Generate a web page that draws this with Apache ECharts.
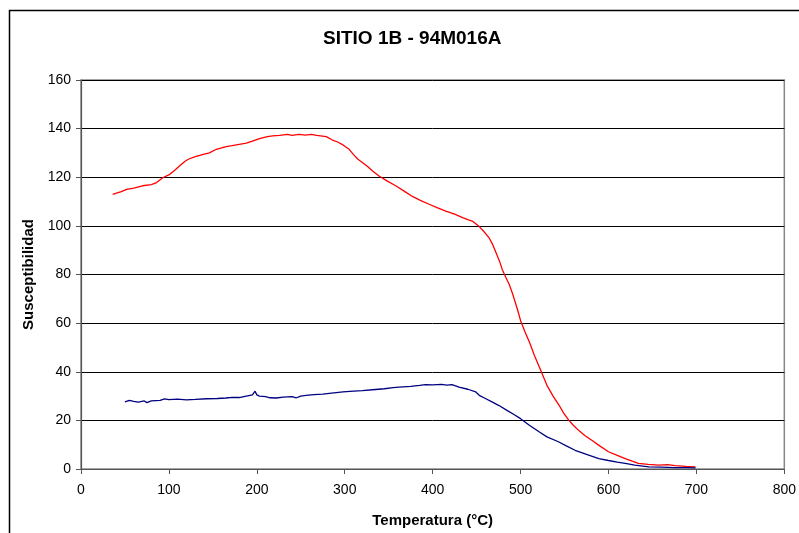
<!DOCTYPE html>
<html lang="es">
<head>
    <meta charset="UTF-8">
    <title>SITIO 1B - 94M016A</title>
    <script src="https://cdn.jsdelivr.net/npm/echarts@6/dist/echarts.min.js"></script>
    <style>
        html, body {
            margin: 0;
            height: 100%;
            background: #fff;
        }
        #main {
            width: 799px;
            height: 533px;
        }
    </style>
</head>
<body>
<div id="main"></div>
<script>
    // calentamiento [temperatura, susceptibilidad]
    var heating = [
        [36, 113], [45, 114], [52, 115], [60, 115.5], [70, 116.5], [80, 117], [86, 117.8], [93, 119.8],
        [101, 121.2], [107, 123], [112, 124.6], [118, 126.5], [122, 127.4], [130, 128.5], [139, 129.4],
        [146, 130], [154, 131.5], [165, 132.6], [172, 133], [180, 133.5], [188, 134], [195, 134.9],
        [203, 135.9], [212, 136.7], [218, 137], [226, 137.2], [235, 137.6], [240, 137.2], [248, 137.6],
        [255, 137.3], [262, 137.6], [268, 137.2], [279, 136.7], [286, 135.3], [292, 134.5], [298, 133.3],
        [305, 131.5], [310, 129.3], [315, 127.4], [320, 126.1], [326, 124.4], [332, 122.5], [339, 120.5],
        [348, 118.5], [358, 116.5], [368, 114.2], [377, 112.1], [386, 110.5], [396, 108.9], [405, 107.5],
        [415, 106.1], [425, 104.8], [434, 103.4], [440, 102.6], [445, 102], [453, 99.7], [458, 97.8],
        [464, 95.2], [468, 92.5], [472, 89], [476, 85.5], [479, 82.2], [483, 79], [487, 76], [491, 72],
        [494, 68.5], [497, 65], [500, 61], [505, 56.5], [510, 52.2], [516, 46.5], [523, 40.5], [530, 34.4],
        [537, 30], [544, 26.1], [549, 23], [555, 20], [560, 18], [566, 15.9], [573, 13.8], [581, 11.8],
        [590, 9.5], [600, 7.1], [610, 5.6], [619, 4.3], [627, 3.2], [634, 2.3], [645, 1.9], [657, 1.6],
        [667, 1.8], [676, 1.4], [688, 1.1], [699, 0.9]
    ];

    // enfriamiento [temperatura, susceptibilidad]
    var cooling = [
        [50, 27.6], [55, 28.2], [60, 27.8], [65, 27.5], [72, 28], [75, 27.3], [80, 28], [90, 28.2],
        [95, 28.8], [100, 28.5], [110, 28.7], [120, 28.4], [130, 28.6], [143, 28.9], [155, 29], [165, 29.2],
        [172, 29.5], [180, 29.4], [188, 30], [195, 30.5], [198, 32], [199, 32.8], [200, 30.5], [203, 30],
        [210, 29.8], [215, 29.3], [222, 29.2], [230, 29.6], [240, 29.8], [245, 29.3], [250, 30], [256, 30.3],
        [265, 30.6], [275, 30.8], [285, 31.2], [298, 31.7], [310, 32], [320, 32.2], [335, 32.7], [345, 33],
        [355, 33.5], [362, 33.7], [375, 34], [385, 34.4], [392, 34.7], [400, 34.6], [410, 34.8], [416, 34.5],
        [422, 34.7], [430, 33.7], [440, 32.8], [449, 31.7], [453, 30.3], [460, 29], [468, 27.5], [475, 26.2],
        [485, 24], [492, 22.5], [500, 20.7], [510, 18], [521, 15.3], [530, 13.2], [543, 11.2], [552, 9.5],
        [562, 7.7], [575, 6], [589, 4.3], [600, 3.5], [610, 2.8], [619, 2.3], [630, 1.6], [646, 0.9],
        [660, 0.8], [675, 0.6], [690, 0.6], [699, 0.5]
    ];

    var xTicks = [0, 800, 100];   // min, max, intervalo
    var yTicks = [0, 160, 20];

    var myChart = echarts.init(document.getElementById('main'));

    var font = 'Liberation Sans, Arial, sans-serif';

    var option = {
        animation: false,
        backgroundColor: '#fff',
        title: {
            text: 'SITIO 1B - 94M016A',
            left: 318,
            top: 24,
            textStyle: {
                fontFamily: font,
                fontSize: 19,
                fontWeight: 'bold',
                color: '#000'
            }
        },
        graphic: [{
            type: 'rect',
            left: 7,
            top: 8,
            shape: {width: 820, height: 560},
            style: {fill: 'none', stroke: '#000', lineWidth: 1.5},
            silent: true
        }],
        grid: {
            left: 81,
            right: 13,
            top: 80,
            bottom: 63,
            show: true,
            borderColor: '#888',
            borderWidth: 1.5
        },
        xAxis: {
            type: 'value',
            min: xTicks[0],
            max: xTicks[1],
            interval: xTicks[2],
            name: 'Temperatura (°C)',
            nameLocation: 'middle',
            nameGap: 44,
            nameTextStyle: {fontFamily: font, fontSize: 15, fontWeight: 'bold', color: '#000'},
            axisLine: {onZero: false, lineStyle: {color: '#555', width: 1.2}},
            axisTick: {show: true, length: 5, lineStyle: {color: '#555'}},
            axisLabel: {fontFamily: font, fontSize: 14, color: '#000', margin: 14},
            splitLine: {show: false}
        },
        yAxis: {
            type: 'value',
            min: yTicks[0],
            max: yTicks[1],
            interval: yTicks[2],
            name: 'Susceptibilidad',
            nameLocation: 'middle',
            nameGap: 45,
            nameTextStyle: {fontFamily: font, fontSize: 15, fontWeight: 'bold', color: '#000'},
            axisLine: {show: true, lineStyle: {color: '#555', width: 1.2}},
            axisTick: {show: true, length: 5, lineStyle: {color: '#555'}},
            axisLabel: {fontFamily: font, fontSize: 14, color: '#000', margin: 10},
            splitLine: {show: true, lineStyle: {color: '#000', width: 1}}
        },
        series: [{
            name: 'Calentamiento',
            type: 'line',
            data: heating,
            showSymbol: false,
            lineStyle: {color: '#ff0000', width: 1.3},
            z: 3
        }, {
            name: 'Enfriamiento',
            type: 'line',
            data: cooling,
            showSymbol: false,
            lineStyle: {color: '#000080', width: 1.3},
            z: 4
        }]
    };

    myChart.setOption(option);
</script>
</body>
</html>
